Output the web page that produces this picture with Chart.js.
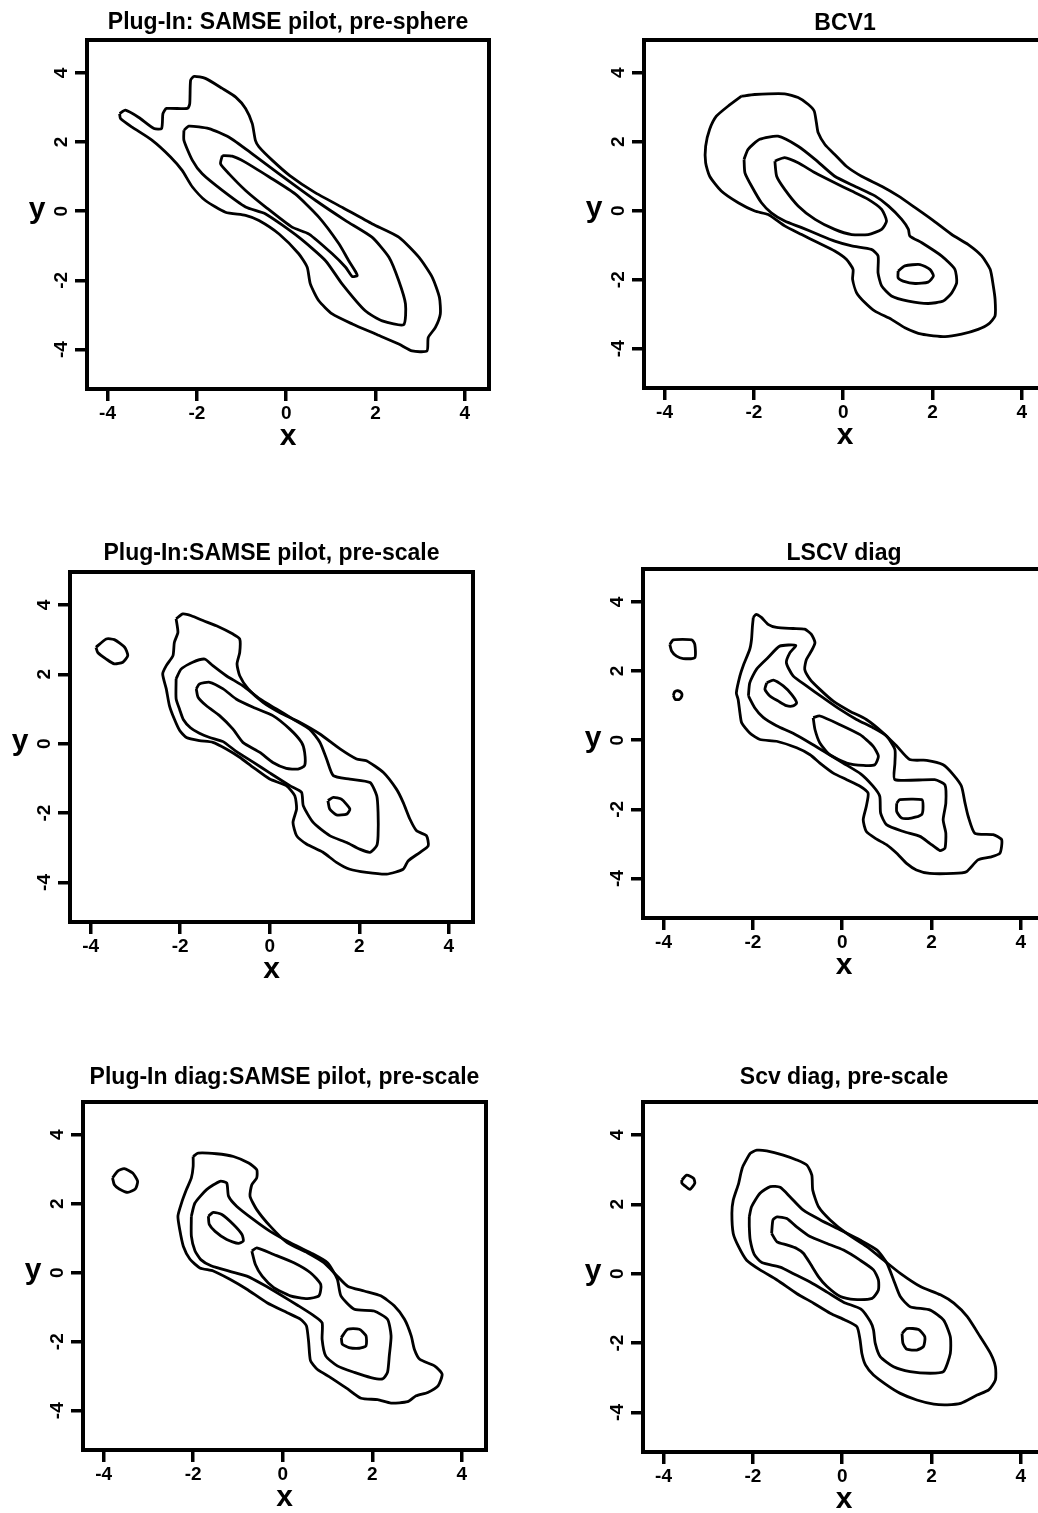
<!DOCTYPE html>
<html>
<head>
<meta charset="utf-8">
<title>Kernel density estimates - bandwidth selectors</title>
<script src="https://cdn.jsdelivr.net/npm/chart.js@4.4.1/dist/chart.umd.min.js"></script>
<style>
  html, body { margin: 0; padding: 0; background: #fff; overflow: hidden; }
  body { position: relative; width: 1038px; height: 1513px; }
  .panel { position: absolute; }
</style>
</head>
<body>
<script>
// ---- data ----
const xTicks = [-4, -2, 0, 2, 4];
const yTicks = [-4, -2, 0, 2, 4];
const xRange = [-4.46, 4.54];
const yRange = [-5.14, 4.95];

const titles = [
  'Plug-In: SAMSE pilot, pre-sphere',
  'BCV1',
  'Plug-In:SAMSE pilot, pre-scale',
  'LSCV diag',
  'Plug-In diag:SAMSE pilot, pre-scale',
  'Scv diag, pre-scale'
];

// contour rings as [x, y]
const sphereOuter = [[-3.73,2.82],[-3.60,2.92],[-3.30,2.71],[-2.96,2.39],[-2.79,2.39],[-2.76,2.82],[-2.68,2.97],[-2.21,2.97],[-2.16,3.11],[-2.14,3.79],[-2.06,3.90],[-1.81,3.84],[-1.43,3.55],[-1.13,3.30],[-0.91,2.97],[-0.76,2.53],[-0.69,2.05],[-0.61,1.86],[-0.31,1.47],[0.08,1.03],[0.62,0.56],[1.27,0.10],[1.93,-0.37],[2.52,-0.75],[2.97,-1.33],[3.27,-1.91],[3.43,-2.49],[3.45,-2.97],[3.34,-3.36],[3.18,-3.65],[3.15,-4.04],[2.82,-4.04],[2.52,-3.84],[2.00,-3.55],[1.48,-3.26],[1.03,-2.97],[0.73,-2.59],[0.54,-2.10],[0.47,-1.62],[0.28,-1.23],[-0.16,-0.66],[-0.61,-0.27],[-0.91,-0.12],[-1.36,-0.03],[-1.81,0.31],[-2.10,0.70],[-2.33,1.18],[-2.59,1.57],[-3.00,2.05],[-3.45,2.43],[-3.71,2.68]];
const sphereMid = [[-2.29,2.34],[-2.18,2.46],[-1.73,2.39],[-1.28,2.14],[-0.76,1.66],[-0.16,1.08],[0.66,0.31],[1.33,-0.27],[1.92,-0.75],[2.30,-1.33],[2.52,-2.01],[2.67,-2.68],[2.63,-3.28],[2.15,-3.17],[1.77,-2.88],[1.25,-2.10],[0.88,-1.43],[0.28,-0.75],[-0.46,-0.08],[-0.91,0.12],[-1.43,0.60],[-1.88,1.08],[-2.10,1.47],[-2.29,2.05]];
const sphereInner = [[-1.43,1.61],[-1.21,1.59],[-0.92,1.42],[-0.38,0.99],[0.20,0.50],[0.73,-0.17],[1.18,-0.94],[1.40,-1.43],[1.54,-1.72],[1.59,-1.86],[1.48,-1.89],[1.33,-1.62],[1.03,-1.23],[0.51,-0.66],[0.13,-0.46],[-0.46,0.12],[-0.91,0.60],[-1.28,1.08],[-1.47,1.37]];

const bcvOuter = [[-2.28,3.32],[-1.98,3.37],[-1.31,3.39],[-1.01,3.28],[-0.78,3.08],[-0.65,2.89],[-0.60,2.55],[-0.56,2.26],[-0.41,1.92],[-0.19,1.63],[0.07,1.29],[0.41,1.00],[0.86,0.71],[1.23,0.43],[1.61,0.09],[1.98,-0.25],[2.43,-0.69],[2.80,-0.98],[3.10,-1.31],[3.29,-1.70],[3.36,-2.18],[3.40,-2.57],[3.40,-3.05],[3.25,-3.29],[3.02,-3.44],[2.65,-3.58],[2.28,-3.65],[1.76,-3.58],[1.38,-3.39],[1.08,-3.15],[0.71,-2.91],[0.49,-2.67],[0.30,-2.38],[0.21,-1.99],[0.22,-1.70],[0.07,-1.41],[-0.19,-1.17],[-0.56,-0.93],[-0.93,-0.69],[-1.31,-0.44],[-1.68,-0.11],[-1.98,-0.01],[-2.35,0.23],[-2.73,0.57],[-2.99,1.00],[-3.08,1.39],[-3.08,1.87],[-2.99,2.36],[-2.84,2.74],[-2.58,3.03]];
const bcvMid = [[-2.22,1.49],[-2.13,1.78],[-1.87,2.07],[-1.46,2.16],[-1.01,1.87],[-0.63,1.49],[-0.19,1.00],[0.26,0.71],[0.71,0.43],[1.01,0.14],[1.31,-0.25],[1.46,-0.54],[1.49,-0.73],[1.76,-0.93],[2.20,-1.31],[2.50,-1.70],[2.54,-2.09],[2.43,-2.38],[2.24,-2.62],[1.90,-2.69],[1.46,-2.62],[1.08,-2.47],[0.86,-2.18],[0.78,-1.80],[0.78,-1.31],[0.63,-1.12],[0.19,-1.02],[-0.19,-0.88],[-0.56,-0.69],[-0.93,-0.49],[-1.31,-0.30],[-1.61,-0.06],[-1.83,0.23],[-2.05,0.71],[-2.20,1.10]];
const bcvInner = [[-1.53,1.44],[-1.31,1.54],[-1.01,1.39],[-0.63,1.10],[-0.19,0.81],[0.19,0.57],[0.56,0.33],[0.86,0.04],[0.97,-0.30],[0.86,-0.54],[0.56,-0.69],[0.19,-0.69],[-0.19,-0.54],[-0.63,-0.25],[-1.01,0.14],[-1.31,0.62],[-1.49,1.00]];
const bcvPeak = [[1.23,-1.75],[1.38,-1.60],[1.72,-1.56],[1.94,-1.70],[2.02,-1.89],[1.90,-2.07],[1.61,-2.11],[1.34,-2.04],[1.23,-1.95]];

const scaleBlob = [[-3.88,2.78],[-3.65,3.02],[-3.47,3.00],[-3.24,2.78],[-3.17,2.54],[-3.28,2.35],[-3.47,2.30],[-3.65,2.44],[-3.84,2.63]];
const scaleOuter = [[-2.09,3.60],[-1.94,3.74],[-1.75,3.69],[-1.49,3.55],[-1.19,3.40],[-0.82,3.16],[-0.67,3.02],[-0.67,2.63],[-0.73,2.30],[-0.67,1.96],[-0.48,1.58],[-0.15,1.19],[0.22,0.90],[0.67,0.62],[1.12,0.28],[1.57,-0.15],[1.94,-0.44],[2.16,-0.49],[2.54,-0.83],[2.83,-1.31],[2.98,-1.69],[3.13,-2.17],[3.28,-2.51],[3.50,-2.65],[3.54,-2.94],[3.36,-3.13],[3.09,-3.38],[2.98,-3.62],[2.61,-3.76],[2.16,-3.71],[1.79,-3.62],[1.49,-3.42],[1.19,-3.13],[0.82,-2.89],[0.60,-2.65],[0.52,-2.27],[0.60,-1.88],[0.56,-1.50],[0.37,-1.21],[0.00,-1.02],[-0.37,-0.68],[-0.67,-0.39],[-0.97,-0.15],[-1.27,0.04],[-1.57,0.09],[-1.86,0.18],[-2.01,0.38],[-2.13,0.71],[-2.24,1.10],[-2.31,1.58],[-2.39,2.01],[-2.31,2.25],[-2.16,2.54],[-2.13,2.92],[-2.05,3.21]];
const scaleMid = [[-2.09,1.87],[-1.98,2.15],[-1.72,2.35],[-1.45,2.44],[-1.27,2.25],[-0.97,1.96],[-0.60,1.67],[-0.22,1.29],[0.15,1.00],[0.52,0.71],[0.89,0.42],[1.12,0.04],[1.27,-0.44],[1.42,-0.92],[1.79,-1.02],[2.24,-1.12],[2.39,-1.50],[2.42,-1.98],[2.42,-2.65],[2.39,-2.94],[2.24,-3.13],[2.01,-3.04],[1.72,-2.85],[1.34,-2.65],[0.97,-2.27],[0.75,-1.79],[0.71,-1.40],[0.45,-1.21],[0.00,-0.84],[-0.37,-0.53],[-0.75,-0.22],[-1.04,0.06],[-1.34,0.18],[-1.57,0.30],[-1.77,0.46],[-1.93,0.70],[-2.01,0.98],[-2.09,1.29]];
const scaleInner = [[-1.64,1.58],[-1.57,1.72],[-1.34,1.77],[-1.04,1.58],[-0.75,1.29],[-0.37,1.05],[0.07,0.81],[0.45,0.42],[0.71,0.04],[0.78,-0.25],[0.78,-0.63],[0.63,-0.73],[0.37,-0.71],[0.07,-0.54],[-0.22,-0.25],[-0.60,0.04],[-0.82,0.42],[-1.12,0.81],[-1.42,1.10],[-1.60,1.34]];
const scalePeak = [[1.30,-1.64],[1.42,-1.55],[1.60,-1.60],[1.79,-1.88],[1.72,-2.03],[1.49,-2.05],[1.34,-1.88]];

const lscvBlob = [[-3.86,2.77],[-3.78,2.90],[-3.37,2.90],[-3.30,2.77],[-3.30,2.39],[-3.56,2.36],[-3.71,2.43],[-3.82,2.58]];
const lscvDot = [[-3.78,1.30],[-3.75,1.40],[-3.68,1.43],[-3.60,1.37],[-3.59,1.28],[-3.65,1.18],[-3.74,1.18]];
const lscvOuter = [[-1.99,3.55],[-1.93,3.64],[-1.81,3.55],[-1.66,3.35],[-1.47,3.26],[-1.10,3.23],[-0.84,3.21],[-0.69,3.06],[-0.61,2.82],[-0.69,2.58],[-0.80,2.34],[-0.84,2.05],[-0.72,1.76],[-0.50,1.47],[-0.20,1.13],[0.17,0.84],[0.54,0.60],[0.92,0.21],[1.22,-0.17],[1.51,-0.56],[1.89,-0.58],[2.26,-0.71],[2.49,-1.00],[2.67,-1.33],[2.75,-1.82],[2.82,-2.20],[2.97,-2.69],[3.38,-2.73],[3.57,-2.88],[3.53,-3.27],[3.31,-3.38],[3.04,-3.46],[2.78,-3.80],[2.49,-3.85],[1.96,-3.85],[1.66,-3.75],[1.44,-3.56],[1.22,-3.27],[0.99,-3.02],[0.77,-2.86],[0.54,-2.64],[0.47,-2.30],[0.54,-1.91],[0.58,-1.53],[0.40,-1.33],[0.10,-1.14],[-0.20,-0.95],[-0.50,-0.66],[-0.72,-0.42],[-1.02,-0.22],[-1.47,-0.03],[-1.84,0.02],[-2.07,0.21],[-2.25,0.50],[-2.29,0.79],[-2.33,1.18],[-2.37,1.37],[-2.29,1.86],[-2.22,2.14],[-2.07,2.63],[-2.03,2.92],[-2.01,3.30]];
const lscvMid = [[-2.10,1.28],[-2.07,1.66],[-1.92,2.05],[-1.66,2.39],[-1.40,2.72],[-1.04,2.74],[-1.17,2.53],[-1.25,2.24],[-1.10,1.86],[-0.80,1.57],[-0.43,1.23],[-0.05,0.89],[0.32,0.60],[0.69,0.36],[0.99,0.12],[1.18,-0.27],[1.18,-0.66],[1.18,-1.14],[2.07,-1.14],[2.30,-1.29],[2.32,-1.82],[2.26,-2.30],[2.32,-2.69],[2.30,-3.12],[2.19,-3.19],[1.96,-2.98],[1.74,-2.78],[1.37,-2.64],[0.99,-2.44],[0.86,-2.11],[0.84,-1.62],[0.69,-1.33],[0.42,-0.98],[0.02,-0.66],[-0.35,-0.37],[-0.72,-0.08],[-1.10,0.20],[-1.47,0.42],[-1.77,0.66],[-1.96,0.94]];
const lscvInnerA = [[-1.69,1.66],[-1.54,1.74],[-1.32,1.57],[-1.13,1.32],[-1.02,1.08],[-1.10,0.99],[-1.25,1.00],[-1.43,1.13],[-1.62,1.28],[-1.73,1.47]];
const lscvInnerB = [[-0.65,0.65],[-0.50,0.70],[-0.05,0.45],[0.40,0.16],[0.69,-0.17],[0.81,-0.46],[0.73,-0.71],[0.47,-0.73],[0.10,-0.66],[-0.28,-0.42],[-0.50,-0.08],[-0.61,0.31]];
const lscvPeak = [[1.22,-1.82],[1.29,-1.72],[1.78,-1.72],[1.81,-1.91],[1.78,-2.15],[1.55,-2.25],[1.33,-2.25],[1.22,-2.06]];

const diagBlob = [[-3.80,2.75],[-3.69,2.94],[-3.54,3.02],[-3.35,2.89],[-3.24,2.65],[-3.29,2.43],[-3.46,2.33],[-3.65,2.43],[-3.76,2.55]];
const diagOuter = [[-2.00,3.37],[-1.89,3.47],[-1.48,3.45],[-1.10,3.37],[-0.76,3.18],[-0.58,2.99],[-0.58,2.75],[-0.69,2.55],[-0.73,2.22],[-0.58,1.83],[-0.28,1.35],[0.10,0.87],[0.55,0.58],[0.92,0.29],[1.22,-0.10],[1.45,-0.39],[1.82,-0.53],[2.19,-0.67],[2.49,-0.96],[2.72,-1.35],[2.87,-1.83],[2.94,-2.22],[3.06,-2.51],[3.39,-2.70],[3.56,-2.94],[3.47,-3.28],[3.24,-3.47],[2.98,-3.57],[2.79,-3.74],[2.42,-3.78],[2.12,-3.68],[1.75,-3.64],[1.45,-3.37],[1.07,-3.04],[0.77,-2.80],[0.62,-2.55],[0.58,-2.02],[0.53,-1.54],[0.40,-1.35],[0.10,-1.16],[-0.35,-0.87],[-0.80,-0.48],[-1.18,-0.19],[-1.55,0.05],[-1.85,0.14],[-2.07,0.39],[-2.22,0.77],[-2.30,1.25],[-2.34,1.64],[-2.26,2.02],[-2.15,2.41],[-2.04,2.75],[-2.00,3.08]];
const diagMid = [[-2.04,1.64],[-1.96,2.02],[-1.70,2.41],[-1.40,2.65],[-1.25,2.60],[-1.21,2.22],[-1.03,1.93],[-0.65,1.54],[-0.28,1.20],[0.17,0.87],[0.62,0.58],[1.00,0.29],[1.22,-0.19],[1.30,-0.67],[1.60,-1.06],[2.04,-1.11],[2.34,-1.35],[2.42,-1.83],[2.38,-2.41],[2.34,-2.89],[2.23,-3.08],[1.97,-3.04],[1.60,-2.89],[1.22,-2.70],[0.96,-2.41],[0.88,-1.93],[0.88,-1.45],[0.70,-1.25],[0.34,-0.95],[-0.05,-0.64],[-0.43,-0.35],[-0.80,-0.10],[-1.18,0.04],[-1.60,0.20],[-1.83,0.38],[-1.96,0.64],[-2.04,1.06]];
const diagInnerA = [[-1.66,1.64],[-1.55,1.75],[-1.36,1.69],[-1.10,1.40],[-0.91,1.11],[-0.88,0.92],[-0.99,0.85],[-1.25,0.96],[-1.51,1.20],[-1.64,1.40]];
const diagInnerB = [[-0.69,0.63],[-0.58,0.72],[-0.20,0.53],[0.25,0.29],[0.62,0.00],[0.85,-0.34],[0.81,-0.67],[0.55,-0.75],[0.17,-0.67],[-0.20,-0.43],[-0.46,-0.10],[-0.61,0.24]];
const diagPeak = [[1.31,-1.88],[1.45,-1.64],[1.71,-1.64],[1.86,-1.83],[1.86,-2.12],[1.71,-2.19],[1.48,-2.17],[1.33,-2.07]];

const scvBlob = [[-3.59,2.70],[-3.48,2.84],[-3.33,2.75],[-3.30,2.61],[-3.41,2.43],[-3.52,2.53],[-3.59,2.61]];
const scvOuter = [[-2.23,3.08],[-2.06,3.47],[-1.91,3.56],[-1.69,3.54],[-1.32,3.42],[-1.02,3.28],[-0.79,3.13],[-0.68,2.84],[-0.66,2.41],[-0.53,1.93],[-0.27,1.55],[0.10,1.16],[0.55,0.78],[0.93,0.39],[1.30,0.01],[1.75,-0.37],[2.20,-0.61],[2.50,-0.85],[2.80,-1.24],[3.09,-1.82],[3.32,-2.30],[3.43,-2.68],[3.43,-3.06],[3.28,-3.35],[3.02,-3.50],[2.65,-3.74],[2.35,-3.78],[2.05,-3.76],[1.67,-3.64],[1.30,-3.45],[1.00,-3.21],[0.70,-2.92],[0.52,-2.63],[0.44,-2.30],[0.40,-1.91],[0.33,-1.53],[0.07,-1.34],[-0.27,-1.14],[-0.64,-0.85],[-1.02,-0.57],[-1.46,-0.18],[-1.84,0.11],[-2.14,0.39],[-2.32,0.78],[-2.44,1.16],[-2.47,1.74],[-2.44,2.12],[-2.32,2.60],[-2.27,2.89]];
const scvMid = [[-2.08,1.64],[-2.03,1.93],[-1.84,2.32],[-1.61,2.51],[-1.39,2.49],[-1.17,2.22],[-0.87,1.83],[-0.49,1.55],[-0.04,1.26],[0.40,0.97],[0.78,0.68],[1.00,0.30],[1.15,-0.18],[1.30,-0.66],[1.52,-0.95],[1.97,-1.05],[2.27,-1.34],[2.42,-1.82],[2.42,-2.30],[2.27,-2.82],[1.97,-2.87],[1.52,-2.82],[1.15,-2.68],[0.85,-2.39],[0.74,-2.01],[0.70,-1.62],[0.63,-1.38],[0.42,-1.02],[0.03,-0.82],[-0.34,-0.53],[-0.72,-0.24],[-1.09,0.00],[-1.39,0.19],[-1.80,0.32],[-1.97,0.56],[-2.06,0.97],[-2.08,1.35]];
const scvInner = [[-1.58,1.16],[-1.55,1.55],[-1.46,1.64],[-1.24,1.59],[-1.02,1.35],[-0.72,1.07],[-0.34,0.87],[0.03,0.68],[0.40,0.39],[0.70,0.11],[0.81,-0.18],[0.81,-0.47],[0.67,-0.71],[0.25,-0.74],[-0.04,-0.66],[-0.34,-0.37],[-0.53,-0.09],[-0.72,0.30],[-0.87,0.59],[-1.02,0.73],[-1.24,0.83],[-1.46,0.92]];
const scvPeak = [[1.34,-1.72],[1.45,-1.58],[1.71,-1.61],[1.85,-1.82],[1.82,-2.10],[1.67,-2.20],[1.45,-2.18],[1.36,-2.01]];

const panelRings = [
  [sphereOuter, sphereMid, sphereInner],
  [bcvOuter, bcvMid, bcvInner, bcvPeak],
  [scaleBlob, scaleOuter, scaleMid, scaleInner, scalePeak],
  [lscvBlob, lscvDot, lscvOuter, lscvMid, lscvInnerA, lscvInnerB, lscvPeak],
  [diagBlob, diagOuter, diagMid, diagInnerA, diagInnerB, diagPeak],
  [scvBlob, scvOuter, scvMid, scvInner, scvPeak]
];

// ---- layout: plot box of each panel on the page ----
const boxes = [
  { left: 87,  top: 40,   width: 402, height: 349, gap: 17.5 },
  { left: 644, top: 40,   width: 402, height: 348, gap: 16 },
  { left: 70,  top: 572,  width: 403, height: 350, gap: 18.3 },
  { left: 643, top: 569,  width: 402, height: 349, gap: 15.3 },
  { left: 83,  top: 1102, width: 403, height: 348, gap: 24 },
  { left: 643, top: 1102, width: 402, height: 350, gap: 24 }
];

const FONT = '"Liberation Sans", Arial, Helvetica, sans-serif';
const PAD_L = 90, PAD_T = 45, PAD_R = 20, PAD_B = 75;
const Y_AXIS_W = 40, X_AXIS_H = 66;

// box round the plot region plus the upright "y" label
const framePlugin = {
  id: 'frame',
  afterDraw(chart) {
    const { ctx, chartArea: a, scales } = chart;
    ctx.save();
    ctx.strokeStyle = '#000';
    ctx.lineWidth = 4;
    ctx.strokeRect(a.left, a.top, a.right - a.left, a.bottom - a.top);
    ctx.fillStyle = '#000';
    ctx.font = 'bold 30px ' + FONT;
    ctx.textAlign = 'center';
    ctx.textBaseline = 'alphabetic';
    ctx.fillText('y', a.left - 50, scales.y.getPixelForValue(0) + 6.6);
    ctx.restore();
  }
};

function axisCommon(ticks) {
  return {
    type: 'linear',
    afterBuildTicks: s => { s.ticks = ticks.map(v => ({ value: v })); },
    grid: { drawOnChartArea: false, drawTicks: true, tickLength: 12, lineWidth: 3.5, color: '#000' },
    border: { display: false }
  };
}

function makePanel(i) {
  const b = boxes[i];
  const wrap = document.createElement('div');
  wrap.className = 'panel';
  wrap.style.left = (b.left - PAD_L) + 'px';
  wrap.style.top = (b.top - PAD_T) + 'px';
  wrap.style.width = (b.width + PAD_L + PAD_R) + 'px';
  wrap.style.height = (b.height + PAD_T + PAD_B) + 'px';
  const canvas = document.createElement('canvas');
  wrap.appendChild(canvas);
  document.body.appendChild(wrap);

  const datasets = panelRings[i].map(ring => ({
    data: ring.concat([ring[0]]).map(p => ({ x: p[0], y: p[1] })),
    showLine: true,
    borderColor: '#000',
    borderWidth: 2.8,
    pointRadius: 0,
    tension: 0.2,
    fill: false
  }));

  const half = 23 * 1.2 / 2;
  new Chart(canvas, {
    type: 'scatter',
    data: { datasets },
    options: {
      responsive: true,
      maintainAspectRatio: false,
      animation: false,
      events: [],
      layout: { padding: { left: PAD_L - Y_AXIS_W, top: 0, right: PAD_R, bottom: PAD_B - X_AXIS_H } },
      plugins: {
        legend: { display: false },
        tooltip: { enabled: false },
        title: {
          display: true,
          text: titles[i],
          fullSize: false,
          color: '#000',
          font: { family: FONT, size: 23, weight: 'bold' },
          padding: { top: PAD_T - b.gap - half, bottom: b.gap - half }
        }
      },
      scales: {
        x: Object.assign(axisCommon(xTicks), {
          min: xRange[0], max: xRange[1],
          afterFit: s => { s.height = X_AXIS_H; },
          ticks: { color: '#000', font: { family: FONT, size: 19, weight: 'bold' }, padding: 1, maxRotation: 0, autoSkip: false },
          title: { display: true, text: 'x', color: '#000', font: { family: FONT, size: 30, weight: 'bold' }, padding: { top: 0, bottom: 0.7 } }
        }),
        y: Object.assign(axisCommon(yTicks), {
          min: yRange[0], max: yRange[1],
          afterFit: s => { s.width = Y_AXIS_W; },
          ticks: { color: '#000', font: { family: FONT, size: 19, weight: 'bold' }, padding: 5, minRotation: 90, maxRotation: 90, crossAlign: 'center', autoSkip: false }
        })
      }
    },
    plugins: [framePlugin]
  });
}

for (let i = 0; i < boxes.length; i++) makePanel(i);
</script>
</body>
</html>
